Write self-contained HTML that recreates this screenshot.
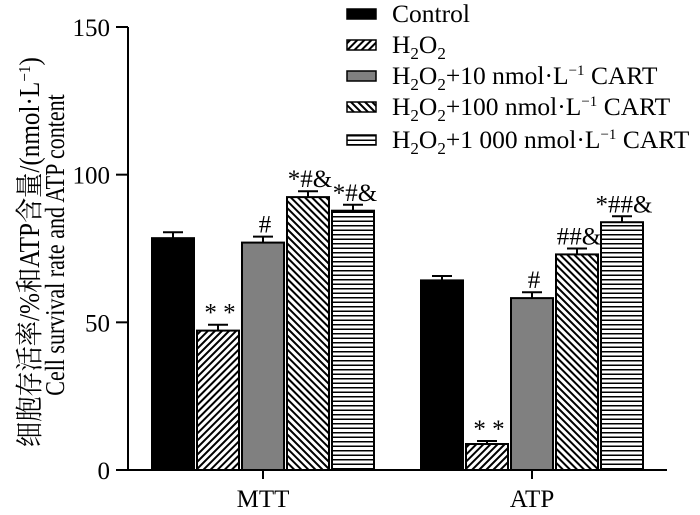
<!DOCTYPE html>
<html><head><meta charset="utf-8"><style>
html,body{margin:0;padding:0;background:#fff;}
svg{display:block;font-family:"Liberation Serif","Noto Serif CJK SC",serif;}
</style></head><body>
<svg id="chart" width="700" height="515" viewBox="0 0 700 515">
<defs>
<pattern id="pFwd" patternUnits="userSpaceOnUse" width="5" height="5" patternTransform="rotate(45)"><rect width="5" height="5" fill="#fff"/><rect width="2" height="5" fill="#000"/></pattern>
<pattern id="pBack" patternUnits="userSpaceOnUse" width="5" height="5" patternTransform="rotate(-45)"><rect width="5" height="5" fill="#fff"/><rect width="2" height="5" fill="#000"/></pattern>
<pattern id="pHor" patternUnits="userSpaceOnUse" width="6" height="4.5"><rect width="6" height="4.5" fill="#fff"/><rect width="6" height="1.5" fill="#000"/></pattern>
</defs>
<g id="plot"></g>
</svg>
<script>
const categories = ["MTT","ATP"];
const seriesNames = ["Control","H2O2","H2O2+10","H2O2+100","H2O2+1000"];
const mttValues = [78.5,47.2,77,92.4,87.8];
const mttErrors = [2,2,2,2,2];
const atpValues = [64.2,8.8,58.2,73,83.9];
const atpErrors = [1.5,1,2,2,2];
const mttMarks = ["","* *","#","*#&","*#&"];
const atpMarks = ["","* *","#","##&","*##&"];
const yTicks = [0,50,100,150];

const NS="http://www.w3.org/2000/svg";
const svg=document.getElementById('plot');
const fills=["#000","url(#pFwd)","#808080","url(#pBack)","url(#pHor)"];
const y0=470,y150=27;
function yS(v){return y0-(v/150)*(y0-y150);}
const groupCenters=[263,532];
function xBar(g,i){return groupCenters[g]+(i-2)*45;}
function mk(tag,attrs){const e=document.createElementNS(NS,tag);for(const k in attrs)e.setAttribute(k,attrs[k]);svg.appendChild(e);return e;}

let ax=mk('line',{x1:128,y1:y150,x2:128,y2:y0+1,stroke:'#000','stroke-width':2});


let xx=mk('line',{x1:127,y1:y0,x2:667,y2:y0,stroke:'#000','stroke-width':2});


yTicks.forEach(t=>{
  const l=mk('line',{x1:116,y1:yS(t),x2:128,y2:yS(t),stroke:'#000','stroke-width':2});
  
  
  const tx=mk('text',{x:110,y:yS(t)+9,'text-anchor':'end','font-size':25});
  tx.textContent=t;
  
  
});
categories.forEach((c,g)=>{
  const l=mk('line',{x1:groupCenters[g],y1:y0,x2:groupCenters[g],y2:y0+9,stroke:'#000','stroke-width':2});
  
  
  const tx=mk('text',{x:groupCenters[g],y:507,'text-anchor':'middle','font-size':25});
  tx.textContent=c;
  
  
});
const vals=[mttValues,atpValues],errs=[mttErrors,atpErrors],marks=[mttMarks,atpMarks];
for(let g=0;g<2;g++){
  for(let i=0;i<5;i++){
    const cx=xBar(g,i),v=vals[g][i],e=errs[g][i];
    const top=yS(v+e);
    const el=mk('line',{x1:cx,y1:yS(v),x2:cx,y2:top,stroke:'#000','stroke-width':2});
    
    
    const cap=mk('line',{x1:cx-10,y1:top,x2:cx+10,y2:top,stroke:'#000','stroke-width':2});
    
    
    const r=mk('rect',{x:cx-21,y:yS(v),width:42,height:y0-yS(v),fill:fills[i],stroke:'#000','stroke-width':2});
    
    
    if(marks[g][i]){
      const t=mk('text',{x:cx+2,y:top-4,'text-anchor':'middle','font-size':25});
      t.textContent=marks[g][i];
      
      
    }
  }
}
const legendLabels=['Control','H<tspan font-size="17" dy="6">2</tspan><tspan dy="-6">O</tspan><tspan font-size="17" dy="6">2</tspan>',
'H<tspan font-size="17" dy="6">2</tspan><tspan dy="-6">O</tspan><tspan font-size="17" dy="6">2</tspan><tspan dy="-6">+10 nmol·L</tspan><tspan font-size="15" dy="-9">−1</tspan><tspan dy="9"> CART</tspan>',
'H<tspan font-size="17" dy="6">2</tspan><tspan dy="-6">O</tspan><tspan font-size="17" dy="6">2</tspan><tspan dy="-6">+100 nmol·L</tspan><tspan font-size="15" dy="-9">−1</tspan><tspan dy="9"> CART</tspan>',
'H<tspan font-size="17" dy="6">2</tspan><tspan dy="-6">O</tspan><tspan font-size="17" dy="6">2</tspan><tspan dy="-6">+1 000 nmol·L</tspan><tspan font-size="15" dy="-9">−1</tspan><tspan dy="9"> CART</tspan>'];
const legY=[14,45,76,107,140];
for(let i=0;i<5;i++){
  const r=mk('rect',{x:347,y:legY[i]-5,width:29,height:10,fill:fills[i],stroke:'#000','stroke-width':1.5});
  
  
  const t=mk('text',{x:392,y:legY[i]+8,'font-size':25.5});
  t.innerHTML=legendLabels[i];
  
  
}
const t1=mk('text',{x:0,y:0,'font-size':28,'text-anchor':'middle',transform:'translate(39,252) rotate(-90) scale(0.9,1)'});
t1.innerHTML='细胞存活率/%和ATP含量/(nmol·L<tspan font-size="17" dy="-9">−1</tspan><tspan dy="9">)</tspan>';


const t2=mk('text',{x:0,y:0,'font-size':27,'text-anchor':'middle',transform:'translate(64,245) rotate(-90) scale(0.815,1)'});
t2.textContent='Cell survival rate and ATP content';


</script>
</body></html>
